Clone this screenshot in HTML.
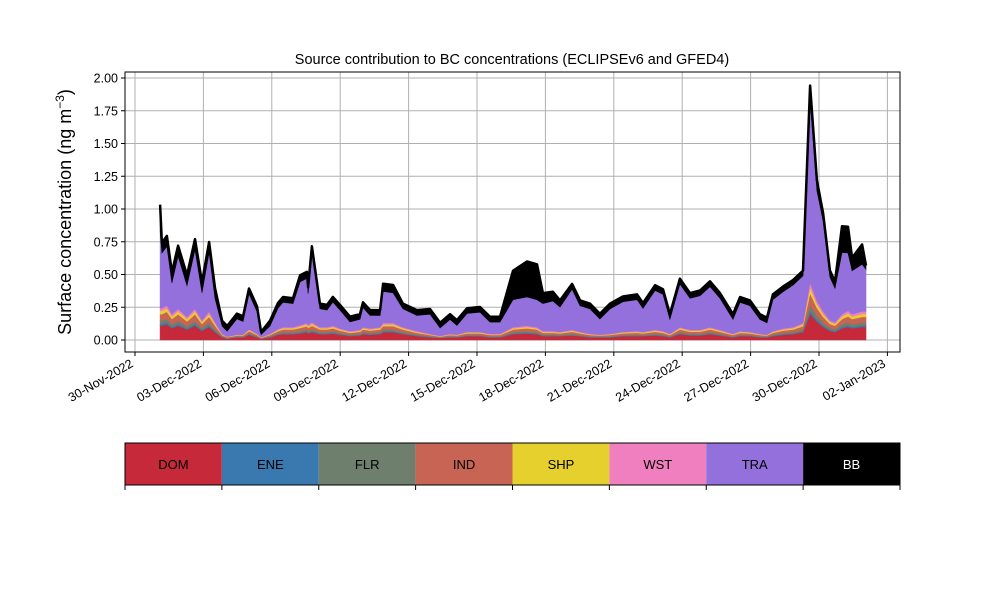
<!DOCTYPE html>
<html><head><meta charset="utf-8"><style>
body{margin:0;background:#fff;}
svg text{font-family:"Liberation Sans","DejaVu Sans",sans-serif;}
</style></head><body>
<svg id="chart" width="1000" height="600" xmlns="http://www.w3.org/2000/svg">
<rect width="1000" height="600" fill="#fff"/>
<text x="512" y="64" font-size="14.5" text-anchor="middle">Source contribution to BC concentrations (ECLIPSEv6 and GFED4)</text>
<text transform="translate(71,212) rotate(-90)" font-size="18" text-anchor="middle">Surface concentration (ng m<tspan dy="-7" font-size="12">−3</tspan><tspan dy="7">)</tspan></text>
<g id="grid"></g>
<g id="areas"></g>
<g id="axes"></g>
<rect x="125" y="72" width="775" height="280" fill="none" stroke="#000" stroke-width="1"/>
<g id="legend"></g>
</svg>
<script>
const days=[1.10,1.18,1.40,1.62,1.89,2.28,2.63,2.94,3.25,3.51,3.82,4.04,4.47,4.74,5.00,5.35,5.53,5.92,6.27,6.49,6.93,7.24,7.54,7.59,7.76,8.11,8.42,8.68,8.99,9.43,9.87,10.0,10.31,10.75,10.88,11.32,11.75,12.37,12.94,13.38,13.82,14.12,14.56,15.13,15.57,16.01,16.58,17.19,17.63,17.89,18.33,18.64,19.17,19.52,19.96,20.39,20.83,21.40,22.02,22.28,22.81,23.16,23.46,23.90,24.34,24.78,25.22,25.66,26.23,26.54,26.97,27.41,27.72,27.98,28.42,28.86,29.30,29.61,29.91,30.18,30.48,30.70,31.01,31.27,31.45,31.89,32.06];
const DOM=[.11,.11,.12,.09,.11,.08,.11,.07,.1,.06,.02,.01,.02,.02,.04,.02,.01,.02,.04,.045,.045,.05,.06,.05,.06,.045,.045,.05,.04,.03,.035,.045,.04,.045,.06,.06,.045,.03,.02,.015,.02,.02,.03,.03,.02,.02,.045,.05,.045,.03,.03,.03,.035,.03,.02,.02,.02,.03,.03,.03,.035,.03,.02,.045,.035,.035,.045,.035,.02,.03,.03,.02,.02,.03,.04,.045,.06,.2,.14,.1,.07,.06,.09,.1,.09,.1,.1];
const ENE=[.013,.013,.014,.01,.012,.009,.012,.008,.011,.007,.003,.002,.002,.002,.004,.003,.001,.003,.004,.005,.005,.006,.007,.006,.007,.005,.005,.006,.005,.004,.004,.005,.005,.005,.007,.007,.005,.004,.003,.002,.003,.002,.003,.003,.003,.003,.005,.006,.005,.004,.004,.003,.004,.003,.003,.002,.003,.003,.004,.003,.004,.004,.003,.005,.004,.004,.005,.004,.003,.004,.003,.003,.002,.004,.005,.005,.007,.022,.015,.011,.008,.007,.01,.012,.01,.011,.011];
const FLR=[.025,.025,.027,.02,.024,.018,.024,.015,.022,.014,.005,.003,.004,.004,.008,.005,.002,.005,.008,.01,.01,.012,.013,.012,.014,.01,.01,.011,.009,.007,.008,.01,.009,.01,.013,.013,.01,.007,.005,.003,.005,.004,.006,.006,.005,.005,.01,.011,.01,.007,.007,.006,.008,.006,.005,.004,.005,.006,.007,.006,.008,.007,.005,.01,.008,.008,.01,.008,.005,.007,.006,.005,.004,.007,.009,.01,.013,.045,.03,.022,.015,.014,.02,.023,.02,.022,.022];
const IND=[.05,.05,.055,.04,.05,.035,.05,.03,.045,.03,.01,.006,.008,.008,.016,.01,.004,.01,.016,.02,.02,.024,.026,.024,.028,.02,.02,.022,.018,.014,.016,.02,.018,.02,.026,.026,.02,.014,.01,.006,.01,.008,.012,.012,.01,.01,.02,.022,.02,.014,.014,.012,.016,.012,.01,.008,.01,.012,.014,.012,.016,.014,.01,.02,.016,.016,.02,.016,.01,.014,.012,.01,.008,.014,.018,.02,.026,.09,.06,.044,.03,.028,.04,.046,.04,.044,.044];
const SHP=[.025,.025,.027,.02,.024,.018,.024,.015,.022,.014,.005,.003,.004,.004,.008,.005,.002,.005,.008,.01,.01,.012,.013,.012,.014,.01,.01,.011,.009,.007,.008,.01,.009,.01,.013,.013,.01,.007,.005,.003,.005,.004,.006,.006,.005,.005,.01,.011,.01,.007,.007,.006,.008,.006,.005,.004,.005,.006,.007,.006,.008,.007,.005,.01,.008,.008,.01,.008,.005,.007,.006,.005,.004,.007,.009,.01,.013,.045,.03,.022,.015,.014,.02,.023,.02,.022,.022];
const WST=[.02,.02,.022,.016,.02,.015,.02,.012,.018,.012,.004,.003,.003,.003,.007,.004,.002,.004,.007,.008,.008,.01,.011,.01,.012,.008,.008,.009,.007,.006,.007,.008,.007,.008,.011,.011,.008,.006,.004,.003,.004,.003,.005,.005,.004,.004,.008,.009,.008,.006,.006,.005,.007,.005,.004,.003,.004,.005,.006,.005,.007,.006,.004,.008,.007,.007,.008,.007,.004,.006,.005,.004,.003,.006,.007,.008,.011,.04,.025,.02,.013,.012,.018,.02,.018,.02,.02];
const TRA=[.59,.42,.45,.24,.40,.24,.45,.21,.45,.18,.06,.04,.12,.10,.27,.17,.02,.06,.16,.19,.18,.33,.34,.24,.53,.14,.13,.18,.14,.07,.08,.15,.10,.09,.24,.23,.14,.12,.15,.06,.11,.07,.14,.15,.09,.09,.21,.22,.21,.21,.23,.19,.31,.20,.19,.12,.19,.23,.24,.18,.30,.28,.11,.33,.24,.26,.31,.24,.11,.22,.20,.11,.09,.24,.28,.32,.36,1.40,.84,.69,.33,.26,.47,.44,.33,.36,.32];
const BB=[.2,.08,.08,.08,.08,.08,.08,.08,.08,.08,.04,.04,.04,.04,.04,.04,.02,.04,.04,.04,.04,.05,.05,.05,.05,.04,.04,.04,.04,.04,.04,.04,.04,.04,.06,.06,.04,.04,.04,.04,.04,.04,.04,.04,.04,.04,.22,.27,.27,.08,.07,.05,.04,.04,.04,.04,.04,.04,.04,.04,.04,.04,.04,.04,.04,.04,.04,.04,.04,.04,.04,.04,.04,.04,.04,.04,.04,.1,.08,.06,.05,.05,.2,.2,.1,.15,.03];
const seriesNames=["DOM","ENE","FLR","IND","SHP","WST","TRA","BB"];
const seriesColors=["#c62a3a","#3a78b0","#6e7f6e","#c86454","#e6d02e","#f07fbf","#9370db","#000000"];
const yTicks=[0,0.25,0.5,0.75,1.0,1.25,1.5,1.75,2.0];
const yTickLabels=["0.00","0.25","0.50","0.75","1.00","1.25","1.50","1.75","2.00"];
const xTicks=[0,3,6,9,12,15,18,21,24,27,30,33];
const xTickLabels=["30-Nov-2022","03-Dec-2022","06-Dec-2022","09-Dec-2022","12-Dec-2022","15-Dec-2022","18-Dec-2022","21-Dec-2022","24-Dec-2022","27-Dec-2022","30-Dec-2022","02-Jan-2023"];

const NS="http://www.w3.org/2000/svg";
const X=t=>135+t*22.8;
const Y=v=>340-v*131;
function mk(tag,attrs,parent){const e=document.createElementNS(NS,tag);for(const k in attrs)e.setAttribute(k,attrs[k]);parent.appendChild(e);return e;}
const grid=document.getElementById('grid'),axes=document.getElementById('axes'),areas=document.getElementById('areas'),legend=document.getElementById('legend');
yTicks.forEach((v,i)=>{
  const g=mk('line',{x1:125,x2:900,y1:Y(v),y2:Y(v),stroke:'#b0b0b0','stroke-width':1},grid);
  
  
  const t=mk('line',{x1:121,x2:125,y1:Y(v),y2:Y(v),stroke:'#000'},axes);
  
  
  const l=mk('text',{x:118,y:Y(v)+4.5,'font-size':12.5,'text-anchor':'end'},axes);
  
  
  l.textContent=yTickLabels[i];
});
xTicks.forEach((d,i)=>{
  const g=mk('line',{x1:X(d),x2:X(d),y1:72,y2:352,stroke:'#b0b0b0','stroke-width':1},grid);
  
  
  const t=mk('line',{x1:X(d),x2:X(d),y1:352,y2:356,stroke:'#000'},axes);
  
  
  const l=mk('text',{transform:`translate(${X(d)-1},${366}) rotate(-30)`,'font-size':12.5,'text-anchor':'end'},axes);
  
  
  l.textContent=xTickLabels[i];
});
const layers=[DOM,ENE,FLR,IND,SHP,WST,TRA,BB];
let base=days.map(()=>0);
layers.forEach((arr,k)=>{
  const top=base.map((b,i)=>b+arr[i]);
  let d='M'+days.map((t,i)=>X(t).toFixed(1)+','+Y(top[i]).toFixed(1)).join('L');
  for(let i=days.length-1;i>=0;i--)d+='L'+X(days[i]).toFixed(1)+','+Y(base[i]).toFixed(1);
  d+='Z';
  const p=mk('path',{d:d,fill:seriesColors[k],stroke:seriesColors[k],'stroke-width':0.6},areas);
  
  
  if(k===layers.length-1){
    const ln=mk('path',{d:'M'+days.map((t,i)=>X(t).toFixed(1)+','+Y(top[i]).toFixed(1)).join('L'),fill:'none',stroke:'#000','stroke-width':2.5,'stroke-linejoin':'round'},areas);
    
    
  }
  base=top;
});
const cw=775/seriesNames.length;
seriesNames.forEach((n,i)=>{
  const r=mk('rect',{x:125+i*cw,y:443,width:cw,height:42,fill:seriesColors[i]},legend);
  
  
  const t=mk('text',{x:125+i*cw+cw/2,y:469,'font-size':13,'text-anchor':'middle',fill:n==='BB'?'#fff':'#000'},legend);
  
  
  t.textContent=n;
});
for(let i=0;i<=seriesNames.length;i++){
  const tk=mk('line',{x1:125+i*cw,x2:125+i*cw,y1:485,y2:490,stroke:'#000'},legend);
  
  
}
const fr=mk('rect',{x:125,y:443,width:775,height:42,fill:'none',stroke:'#000','stroke-width':1},legend);


</script>
</body></html>
